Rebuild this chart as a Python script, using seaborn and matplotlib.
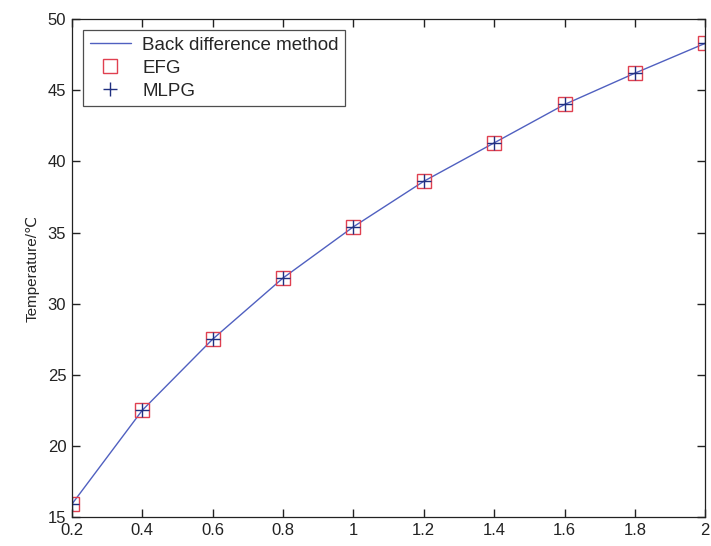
import matplotlib
matplotlib.use("Agg")
import matplotlib.pyplot as plt
import seaborn as sns
import pandas as pd

# time (x) and temperature readings
time = [0.2, 0.4, 0.6, 0.8, 1.0, 1.2, 1.4, 1.6, 1.8, 2.0]
back_diff = [15.9, 22.5, 27.5, 31.8, 35.4, 38.6, 41.3, 44.0, 46.2, 48.3]
efg = [15.9, 22.5, 27.5, 31.8, 35.4, 38.6, 41.3, 44.0, 46.2, 48.3]
mlpg = [15.9, 22.5, 27.5, 31.8, 35.4, 38.6, 41.3, 44.0, 46.2, 48.3]

x_ticks = [0.2, 0.4, 0.6, 0.8, 1.0, 1.2, 1.4, 1.6, 1.8, 2.0]
x_tick_labels = ["0.2", "0.4", "0.6", "0.8", "1", "1.2", "1.4", "1.6", "1.8", "2"]
y_ticks = [15, 20, 25, 30, 35, 40, 45, 50]

sns.set_theme(style="ticks", rc={
    "xtick.direction": "in", "ytick.direction": "in",
    "xtick.top": True, "ytick.right": True,
    "xtick.major.size": 6, "ytick.major.size": 6,
    "xtick.major.width": 1.0, "ytick.major.width": 1.0,
    "xtick.color": "#222222", "ytick.color": "#222222",
})
plt.rcParams["font.family"] = ["Liberation Sans", "DejaVu Sans", "Noto Sans CJK SC"]

df = pd.DataFrame({"t": time, "bd": back_diff, "efg": efg, "mlpg": mlpg})

fig = plt.figure(figsize=(7.11, 5.46), dpi=100)
ax = fig.add_axes([0.101, 0.053, 0.891, 0.912])

sns.lineplot(data=df, x="t", y="bd", ax=ax, color="#5060c0", linewidth=1.0,
             label="Back difference method")
sns.lineplot(data=df, x="t", y="efg", ax=ax, linestyle="none", marker="s",
             markersize=9.5, markerfacecolor="none", markeredgecolor="#e04050",
             markeredgewidth=1.0, color="#e04050", label="EFG")
sns.lineplot(data=df, x="t", y="mlpg", ax=ax, linestyle="none", marker="+",
             markersize=9.5, markeredgewidth=1.0, markeredgecolor="#203080",
             color="#203080", label="MLPG")

ax.set_xlim(0.2, 2.0)
ax.set_ylim(15, 50)
ax.set_xticks(x_ticks)
ax.set_xticklabels(x_tick_labels)
ax.set_yticks(y_ticks)
ax.set_xlabel("")
ax.set_ylabel("Temperature/℃", fontsize=11, labelpad=6)

ax.tick_params(axis="both", which="major", direction="in", length=6, width=1.0,
               labelsize=12, color="#222222", labelcolor="#222222",
               top=True, right=True, bottom=True, left=True, pad=4)
for sp in ax.spines.values():
    sp.set_visible(True)
    sp.set_color("#222222")
    sp.set_linewidth(0.9)

leg = ax.legend(loc="upper left", fontsize=13.5, frameon=True, fancybox=False,
                borderpad=0.35, handlelength=2.2, labelspacing=0.3,
                borderaxespad=0.6, handletextpad=0.6)
leg.get_frame().set_edgecolor("#222222")
leg.get_frame().set_linewidth(0.9)

fig.savefig("out.png", dpi=100)
